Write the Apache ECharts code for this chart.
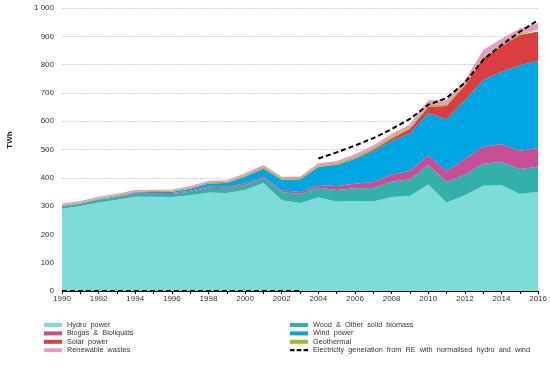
<!DOCTYPE html>
<html>
<head>
<meta charset="utf-8">
<script src="https://cdn.jsdelivr.net/npm/echarts@6/dist/echarts.min.js"></script>
<style>html,body{margin:0;padding:0;background:#fff}#c{width:550px;height:371px}</style>
</head>
<body>
<div id="c"></div>
<script>
var years = ['1990','1991','1992','1993','1994','1995','1996','1997','1998','1999','2000','2001','2002','2003','2004','2005','2006','2007','2008','2009','2010','2011','2012','2013','2014','2015','2016'];
var hydro   = [291,300,313,322,333,333,332,338,348,346,357,382,321,311,330,316,318,316,332,336,376,313,338,372,374,343,351];
var wood    = [8,8,9,10,11,11,11,13,17,17,18,16,29,32,35,41,45,48,54,59,69,73,73,78,82,88,88];
var biogas  = [1,1,1,2,2,2,3,3,4,5,6,6,6,7,10,14,16,21,26,29,34,39,55,60,63,65,66];
var wind    = [1,1,2,2,3,4,5,7,11,14,23,28,37,44,62,74,87,110,118,133,150,182,209,236,256,302,308];
var solar   = [0,0,0,0,0,0,0,0,0,0,0,0,0,0,1,1,2,4,8,15,21,47,50,76,90,107,104];
var geo     = [3,3,3,3,3,3,3,4,4,4,5,5,5,5,5,5,6,6,6,6,6,6,6,6,6,6,6];
var waste   = [5,5,5,5,5,5,5,6,6,5,7,8,6,6,8,8,9,10,11,11,18,15,14,24,20,17,24];
var normZero = [0,0,0,0,0,0,0,0,0,0,0,0,0,0,null,null,null,null,null,null,null,null,null,null,null,null,null];
var normRE   = [null,null,null,null,null,null,null,null,null,null,null,null,null,null,468,490,514,540,572,608,658,682,736,817,869,916,957];
var yTicks = {min: 0, max: 1000, interval: 100};

var names = ['Hydro  power','Wood  &  Other  solid  biomass','Biogas  &  Bioliquids','Wind  power','Solar  power','Geothermal','Renewable  wastes','Electricity  generation  from  RE  with  normalised  hydro  and  wind'];
var colors = ['#7BDCD8','#33B0AA','#C94F95','#00A6E2','#DA3D42','#A9B32A','#E59AC8','#000000'];
var values = [hydro, wood, biogas, wind, solar, geo, waste];

var series = values.map(function (d, i) {
  return {
    name: names[i], type: 'line', stack: 'total', data: d,
    symbol: 'none', color: colors[i],
    lineStyle: {width: 0}, areaStyle: {color: colors[i], opacity: 1},
    emphasis: {disabled: true}, z: 2
  };
});
[normZero, normRE].forEach(function (d) {
  series.push({
    name: names[7], type: 'line', data: d, symbol: 'none', color: '#000',
    connectNulls: false,
    lineStyle: {color: '#000', width: 2, type: [5, 3]}, z: 5,
    emphasis: {disabled: true}
  });
});

var dashIcon = 'path://M0,0h4v2h-4z M6,0h4v2h-4z M12,0h4v2h-4z';
var legendBase = {
  orient: 'vertical', icon: 'rect', itemWidth: 18, itemHeight: 4, itemGap: 0.4,
  textStyle: {fontFamily: 'Liberation Sans, Arial', fontSize: 7.3, color: '#333', lineHeight: 8},
  itemStyle: {borderWidth: 0}, lineStyle: {width: 0}, selectedMode: false, padding: 0
};
function leg(left, items) {
  var o = JSON.parse(JSON.stringify(legendBase));
  o.left = left; o.top = 321; o.data = items;
  return o;
}

var chart = echarts.init(document.getElementById('c'), null, {renderer: 'canvas'});
chart.setOption({
  animation: false,
  grid: {left: 62, right: 11.5, top: 8, bottom: 80},
  legend: [
    leg(44, [names[0], names[2], names[4], names[6]]),
    leg(290, [names[1], names[3], names[5], {name: names[7], icon: dashIcon}])
  ],
  graphic: [{
    type: 'text', x: 10, y: 140, rotation: Math.PI / 2,
    style: {text: 'TWh', font: 'bold 8px Liberation Sans, Arial', fill: '#222', align: 'center', verticalAlign: 'middle'}
  }],
  xAxis: {
    type: 'category', data: years, boundaryGap: false,
    axisLine: {lineStyle: {color: '#000', width: 1}},
    axisTick: {interval: 0, length: 3, lineStyle: {color: '#000'}},
    axisLabel: {interval: 1, fontFamily: 'Liberation Sans, Arial', fontSize: 8, color: '#333', margin: 4}
  },
  yAxis: {
    type: 'value', min: yTicks.min, max: yTicks.max, interval: yTicks.interval,
    axisLine: {show: false}, axisTick: {show: false},
    axisLabel: {
      fontFamily: 'Liberation Sans, Arial', fontSize: 8, color: '#333', margin: 8,
      formatter: function (v) { return String(v).replace(/\B(?=(\d{3})+(?!\d))/g, ' '); }
    },
    splitLine: {lineStyle: {color: '#d4d4d4', type: [2, 1], width: 1}}
  },
  series: series
});
</script>
</body>
</html>
